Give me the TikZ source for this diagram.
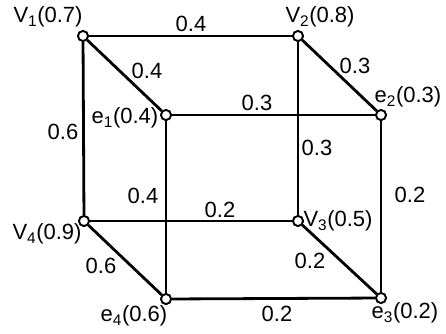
\documentclass[tikz,border=0pt]{standalone}
\usepackage{fontspec}
\setmainfont{Liberation Sans}
\begin{document}
\begin{tikzpicture}[x=1pt,y=-1pt,
  vtx/.style={circle,draw,fill=white,line width=1.8pt,inner sep=0pt,minimum size=10pt},
  edge/.style={line width=2.8pt},
  lbl/.style={font=\fontsize{22}{25}\selectfont,inner sep=0pt}]
\useasboundingbox (0,0) rectangle (446,333);
% vertices
\node[vtx] (V1) at (83,36) {};
\node[vtx] (V2) at (298,36) {};
\node[vtx] (V3) at (298,221) {};
\node[vtx] (V4) at (84,221) {};
\node[vtx] (e1) at (166,115) {};
\node[vtx] (e2) at (381,115) {};
\node[vtx] (e3) at (381,298) {};
\node[vtx] (e4) at (166,299) {};
% edges
\draw[edge] (V1) -- (V2);
\draw[edge] (V1) -- (V4);
\draw[edge] (V1) -- (e1);
\draw[edge] (V2) -- (e2);
\draw[edge] (V2) -- (V3);
\draw[edge] (e1) -- (e2);
\draw[edge] (e1) -- (e4);
\draw[edge] (e2) -- (e3);
\draw[edge] (V4) -- (V3);
\draw[edge] (V4) -- (e4);
\draw[edge] (V3) -- (e3);
\draw[edge] (e4) -- (e3);
% redraw vertices on top
\foreach \n in {V1,V2,V3,V4,e1,e2,e3,e4}{\node[vtx] at (\n) {};}
% vertex labels
\node[lbl] (lV1) at (48,17) {V\textsubscript{1}(0.7)};
\node[lbl] (lV2) at (320,17) {V\textsubscript{2}(0.8)};
\node[lbl] (lV3) at (338,221) {V\textsubscript{3}(0.5)};
\node[lbl] (lV4) at (47,234) {V\textsubscript{4}(0.9)};
\node[lbl] (le1) at (125,118) {e\textsubscript{1}(0.4)};
\node[lbl] (le2) at (408,97) {e\textsubscript{2}(0.3)};
\node[lbl] (le3) at (405,313) {e\textsubscript{3}(0.2)};
\node[lbl] (le4) at (134,316) {e\textsubscript{4}(0.6)};
% edge labels
\node[lbl] (w12) at (191,24) {0.4};
\node[lbl] (w1e) at (147,71) {0.4};
\node[lbl] (w14) at (63,132) {0.6};
\node[lbl] (w2e) at (355,66) {0.3};
\node[lbl] (wee12) at (257,103) {0.3};
\node[lbl] (w23) at (317,148) {0.3};
\node[lbl] (wee14) at (143,196) {0.4};
\node[lbl] (w43) at (220,210) {0.2};
\node[lbl] (wee23) at (410,195) {0.2};
\node[lbl] (w4e) at (101,266) {0.6};
\node[lbl] (w3e) at (310,261) {0.2};
\node[lbl] (wee43) at (277,314) {0.2};
\end{tikzpicture}
\end{document}
